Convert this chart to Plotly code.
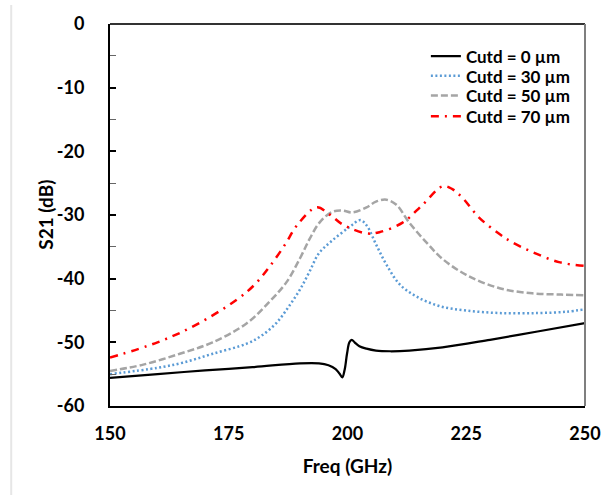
import plotly.graph_objects as go

# ---- data ----
f0 = [150, 160, 170, 180, 190, 194, 196, 197.5, 198.3, 198.9, 199.4, 199.9, 200.4, 200.9, 201.5, 202.5, 204, 206, 209, 213, 220, 230, 240, 250]
s0 = [-55.6, -55.0, -54.4, -53.9, -53.3, -53.3, -53.6, -54.2, -54.9, -55.5, -54.3, -51.8, -50.0, -49.6, -50.0, -50.6, -51.0, -51.3, -51.4, -51.3, -50.8, -49.6, -48.3, -47.0]

f30 = [150, 160, 165.3, 171.6, 178.8, 182, 185.1, 187.8, 190, 192, 194, 196.8, 200.4, 202.7, 204, 206, 208.2, 211, 214.5, 219.3, 225, 232, 240, 246, 250]
s30 = [-55.0, -54.0, -53.2, -51.8, -50.2, -48.9, -46.9, -44.2, -41.7, -38.9, -36.0, -34.0, -31.9, -30.8, -31.6, -34.6, -37.8, -40.9, -42.8, -44.3, -45.0, -45.4, -45.4, -45.2, -44.8]

f50 = [150, 157, 164.7, 171.6, 178.8, 183.6, 187.2, 190, 192, 194.1, 196.8, 199, 201, 204, 206, 208.2, 210.3, 213, 216.6, 220, 225, 232, 238.9, 245, 250]
s50 = [-54.5, -53.5, -51.8, -50.0, -47.0, -43.6, -40.5, -36.8, -33.8, -31.2, -29.5, -29.3, -29.6, -28.8, -27.9, -27.6, -28.4, -31.2, -34.3, -36.9, -39.4, -41.5, -42.3, -42.5, -42.6]

f70 = [150, 160, 168, 176.7, 180.5, 183.6, 186.8, 189.5, 193.5, 196.2, 199, 204, 206.7, 211.6, 215.8, 220, 222, 224.2, 227.7, 232, 234.7, 238.9, 244.5, 250]
s70 = [-52.4, -50.0, -47.3, -43.3, -40.9, -38.1, -34.7, -31.5, -28.8, -29.9, -31.5, -32.9, -32.7, -31.2, -28.4, -25.5, -25.9, -27.3, -30.4, -33.0, -34.3, -35.8, -37.4, -38.0]

names = ["Cutd = 0 µm", "Cutd = 30 µm", "Cutd = 50 µm", "Cutd = 70 µm"]
xticks = [150, 175, 200, 225, 250]
yticks = [0, -10, -20, -30, -40, -50, -60]
ytick_labels = ["0", "-10", "-20", "-30", "-40", "-50", "-60"]
x_title = "Freq (GHz)"
y_title = "S21 (dB)"

FONT = "Lato"
styles = [
    dict(color="black", width=2.25, dash="solid"),
    dict(color="#5b9bd5", width=2.5, dash="2px,2.5px"),
    dict(color="#a5a5a5", width=2.5, dash="7px,3px"),
    dict(color="#ff0000", width=2.5, dash="8px,6px,2px,6px"),
]
series = [(f0, s0), (f30, s30), (f50, s50), (f70, s70)]
legend_ids = ["legend", "legend2", "legend3", "legend4"]

fig = go.Figure()
for (fx, sy), nm, st, lg in zip(series, names, styles, legend_ids):
    fig.add_trace(go.Scatter(x=fx, y=sy, name=nm, mode="lines", line_shape="spline",
                             line=st, legend=lg))

# legend rows (pixel centres within plot height 387, bottom at 406)
row_px = [52, 72, 92, 113]
leg_common = dict(x=0.665, xanchor="left", yanchor="middle", bgcolor="rgba(0,0,0,0)",
                  font=dict(size=17, family=FONT, weight="bold"), itemwidth=30)
legends = {}
for lg, py in zip(legend_ids, row_px):
    legends[lg] = dict(leg_common, y=(406 - py) / 387)

fig.update_layout(
    width=613, height=496,
    margin=dict(l=110, r=27, t=19, b=90),
    paper_bgcolor="white", plot_bgcolor="white",
    font=dict(family=FONT, size=18, color="black", weight="bold"),
    showlegend=True,
    xaxis=dict(range=[150, 250], tickvals=xticks, ticks="", showgrid=False, zeroline=False,
               showline=True, linecolor="black", linewidth=2,
               title=dict(text=x_title, standoff=17, font=dict(size=19, weight="bold")),
               ticklabelstandoff=10),
    yaxis=dict(range=[-60, 0], tickvals=yticks, ticktext=ytick_labels,
               ticks="inside", ticklen=6, tickwidth=1.5,
               tickcolor="black", showgrid=False, zeroline=False,
               showline=True, linecolor="black", linewidth=2,
               minor=dict(dtick=5, ticks="inside", ticklen=6, tickcolor="#666666", tickwidth=1.2),
               ticklabelstandoff=20),
    **legends,
)

# y-axis title placed as rotated annotation
fig.add_annotation(text=y_title, xref="paper", yref="paper", x=(45 - 110) / 476, y=0.501,
                   xanchor="center", yanchor="middle", textangle=-90, showarrow=False,
                   font=dict(size=19, family=FONT, weight="bold", color="black"))

# top and right frame lines
fig.add_shape(type="line", xref="paper", yref="paper", x0=0, x1=1, y0=1, y1=1,
              line=dict(color="#333333", width=2))
fig.add_shape(type="line", xref="paper", yref="paper", x0=1, x1=1, y0=0, y1=1,
              line=dict(color="#7f7f7f", width=2))
# light page border at far left
fig.add_shape(type="line", xref="paper", yref="paper", x0=-0.208, x1=-0.208, y0=-0.233, y1=1.05,
              line=dict(color="#e6e6e6", width=2))

fig.write_html("out.html")
